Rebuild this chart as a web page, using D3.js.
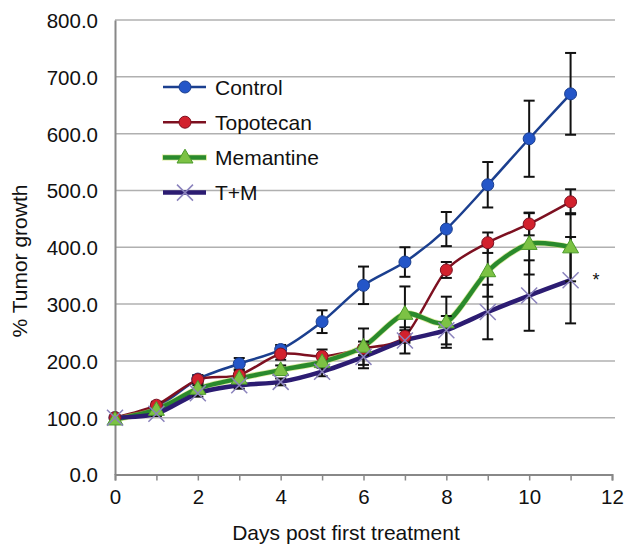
<!DOCTYPE html>
<html>
<head>
<meta charset="utf-8">
<script src="https://cdn.jsdelivr.net/npm/d3@7"></script>
<style>
  body { margin: 0; background: #fff; }
  text { font-family: "Liberation Sans", Arial, sans-serif; fill: #111; }
</style>
</head>
<body>
<div id="chart"></div>
<script>
// tumor growth per day, mean and error for each group
var days = [0, 1, 2, 3, 4, 5, 6, 7, 8, 9, 10, 11];

var control      = [100, 118, 168, 195, 220, 269, 333, 374, 432, 510, 591, 670];
var controlErr   = [0, 8, 7, 10, 8, 20, 33, 26, 30, 40, 67, 72];
var topotecan    = [100, 122, 167, 175, 212, 208, 222, 243, 360, 408, 441, 480];
var topotecanErr = [0, 6, 7, 8, 10, 12, 12, 11, 14, 18, 20, 22];
var memantine    = [97, 114, 151, 169, 184, 198, 225, 283, 268, 358, 406, 400];
var memantineErr = [0, 5, 6, 8, 8, 10, 32, 48, 45, 45, 54, 60];
var tm           = [100, 107, 143, 157, 163, 181, 207, 236, 254, 286, 315, 342];
var tmErr        = [0, 4, 6, 6, 6, 8, 20, 23, 25, 48, 62, 76];

var yTicks = [0, 100, 200, 300, 400, 500, 600, 700, 800];
var xTicks = [0, 2, 4, 6, 8, 10, 12];

var W = 626, H = 546;
var svg = d3.select('#chart').append('svg')
    .attr('width', W)
    .attr('height', H);

var x = d3.scaleLinear().domain([0, 12]).range([115, 612]);
var y = d3.scaleLinear().domain([0, 800]).range([474.5, 20]);

// gridlines
svg.append('g')
    .selectAll('line')
    .data(yTicks.slice(1))
    .join('line')
    .attr('x1', x(0)).attr('x2', x(12) + 3)
    .attr('y1', d => y(d)).attr('y2', d => y(d))
    .attr('stroke', '#b0b0b0')
    .attr('stroke-width', 1.5);

// axes
var yAxis = svg.append('g')
    .attr('transform', 'translate(' + x(0) + ',0)')
    .call(d3.axisLeft(y).tickValues(yTicks).tickSize(0).tickPadding(17).tickFormat(d3.format('.1f')));
yAxis.select('.domain').attr('stroke', '#888').attr('stroke-width', 2);
yAxis.selectAll('text').style('font-size', '20.5px').attr('dy', '0.36em');

var xAxis = svg.append('g')
    .attr('transform', 'translate(0,' + y(0) + ')')
    .call(d3.axisBottom(x).ticks(12).tickSize(6).tickSizeOuter(6).tickPadding(9)
        .tickFormat(d => xTicks.indexOf(d) >= 0 ? d : ''));
xAxis.select('.domain').attr('stroke', '#888').attr('stroke-width', 2);
xAxis.selectAll('.tick line').attr('stroke', '#888').attr('stroke-width', 1.5);
xAxis.selectAll('text').style('font-size', '20.5px');

// axis titles
svg.append('text')
    .attr('x', 346).attr('y', 540)
    .attr('text-anchor', 'middle')
    .style('font-size', '21px')
    .text('Days post first treatment');

svg.append('g')
    .attr('transform', 'translate(27,261) rotate(-90)')
    .append('text')
    .attr('text-anchor', 'middle')
    .style('font-size', '21px')
    .text('% Tumor growth');

var series = [
    {name: 'Control', vals: control, err: controlErr, line: '#1b3f8f', lw: 2.5, fill: '#2456c8', mark: 'circle'},
    {name: 'Topotecan', vals: topotecan, err: topotecanErr, line: '#7d1020', lw: 2.5, fill: '#d2212d', mark: 'circle'},
    {name: 'Memantine', vals: memantine, err: memantineErr, line: '#2a8a2c', lw: 4.5, fill: '#7cc244', mark: 'triangle'},
    {name: 'T+M', vals: tm, err: tmErr, line: '#2c1c72', lw: 4.5, fill: '#8a82bc', mark: 'x'}
];

var lineGen = d3.line()
    .x((d, i) => x(days[i]))
    .y(d => y(d))
    .curve(d3.curveCardinal.tension(0.2));

// lines
series.forEach(function(s){
    if (s.mark == 'triangle'){
        svg.append('path')
            .attr('d', lineGen(s.vals))
            .attr('fill', 'none')
            .attr('stroke', '#c8e060')
            .attr('stroke-width', s.lw + 1.5)
            .attr('opacity', 0.6);
    }
    svg.append('path')
        .attr('d', lineGen(s.vals))
        .attr('fill', 'none')
        .attr('stroke', s.line)
        .attr('stroke-width', s.lw);
});

// error bars
series.forEach(function(s){
    var g = svg.append('g').attr('stroke', '#111').attr('stroke-width', 2);
    days.forEach(function(d, i){
        if (!s.err[i]) return;
        var cx = x(d), top = y(s.vals[i] + s.err[i]), bot = y(s.vals[i] - s.err[i]);
        g.append('line').attr('x1', cx).attr('x2', cx).attr('y1', top).attr('y2', bot);
        g.append('line').attr('x1', cx - 5.5).attr('x2', cx + 5.5).attr('y1', top).attr('y2', top);
        g.append('line').attr('x1', cx - 5.5).attr('x2', cx + 5.5).attr('y1', bot).attr('y2', bot);
    });
});

function drawMarker(g, s, cx, cy){
    if (s.mark == 'circle'){
        g.append('circle').attr('cx', cx).attr('cy', cy).attr('r', 6)
            .attr('fill', s.fill).attr('stroke', s.line).attr('stroke-width', 1);
    } else if (s.mark == 'triangle'){
        g.append('path')
            .attr('d', d3.symbol(d3.symbolTriangle, 110)())
            .attr('transform', 'translate(' + cx + ',' + (cy + 1) + ')')
            .attr('fill', s.fill).attr('stroke', '#4a9a2a').attr('stroke-width', 1);
    } else {
        var r = 8;
        g.append('path')
            .attr('d', 'M' + (cx - r) + ',' + (cy - r) + 'L' + (cx + r) + ',' + (cy + r) +
                       'M' + (cx - r) + ',' + (cy + r) + 'L' + (cx + r) + ',' + (cy - r))
            .attr('stroke', s.fill).attr('stroke-width', 1.5).attr('fill', 'none');
    }
}

// markers
series.forEach(function(s){
    var g = svg.append('g');
    days.forEach(function(d, i){ drawMarker(g, s, x(d), y(s.vals[i])); });
});

// significance mark
svg.append('text')
    .attr('x', x(11) + 22).attr('y', y(tm[11]) + 6)
    .style('font-size', '18px')
    .text('*');

// legend
var legend = svg.append('g');
series.forEach(function(s, i){
    var ly = 87 + i * 35.2;
    if (s.mark == 'triangle'){
        legend.append('line').attr('x1', 162).attr('x2', 207).attr('y1', ly).attr('y2', ly)
            .attr('stroke', '#c8e060').attr('stroke-width', s.lw + 1.5).attr('opacity', 0.6);
    }
    legend.append('line')
        .attr('x1', 163).attr('x2', 206)
        .attr('y1', ly).attr('y2', ly)
        .attr('stroke', s.line)
        .attr('stroke-width', s.lw);
    drawMarker(legend, s, 185, ly);
    legend.append('text')
        .attr('x', 215).attr('y', ly)
        .attr('dy', '0.36em')
        .style('font-size', '21px')
        .text(s.name);
});
</script>
</body>
</html>
